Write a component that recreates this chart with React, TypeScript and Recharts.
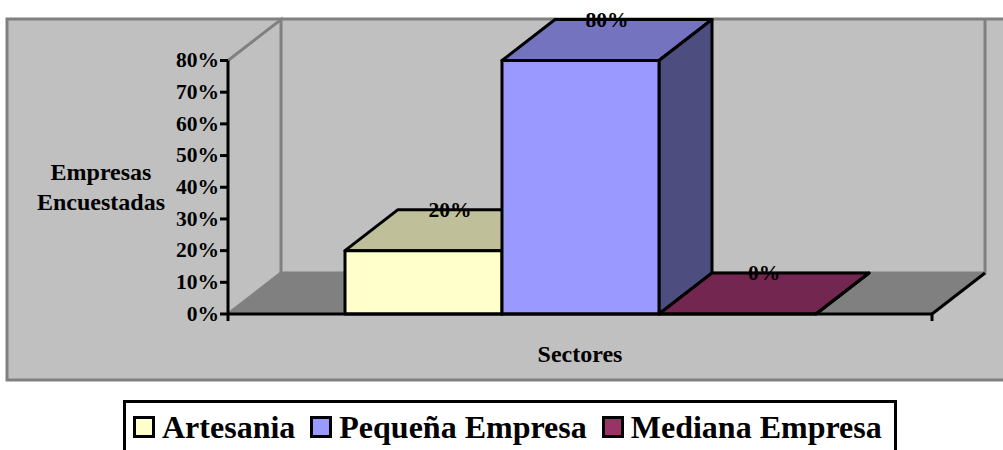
import React from 'react';
import { Bar, ComposedChart, Label, LabelList, Legend, XAxis, YAxis, usePlotArea } from 'recharts';

const categories = ['Sectores'];
const seriesNames = ['Artesania', 'Pequeña Empresa', 'Mediana Empresa'];
const seriesValues = [20, 80, 0];
const yTicks = [0, 10, 20, 30, 40, 50, 60, 70, 80];
const frontColors = ['#FFFFCC', '#9999FF', '#993366'];
const topColors = ['#BFBF99', '#7373BF', '#732650'];
const sideColors = ['#808066', '#4D4D80', '#4D1A33'];

const data = categories.map((name) => {
  const row: Record<string, string | number> = { name };
  seriesNames.forEach((s, i) => {
    row[s] = seriesValues[i];
  });
  return row;
});

const FONT = '"Liberation Serif", "Times New Roman", serif';
const DEPTH_X = 53;
const DEPTH_Y = 41;
const GRAY = '#808080';

function Backdrop() {
  const plot = usePlotArea();
  if (!plot) return null;
  const left = plot.x;
  const right = plot.x + plot.width;
  const top = plot.y;
  const bottom = plot.y + plot.height;
  const backX = left + DEPTH_X;
  const backRight = right + DEPTH_X;
  const backTop = top - DEPTH_Y;
  const backBottom = bottom - DEPTH_Y;
  return (
    <g>
      <rect x={7} y={19} width={1010} height={361} fill="#C0C0C0" stroke={GRAY} strokeWidth={3} />
      <polygon
        points={`${left},${bottom} ${right},${bottom} ${backRight},${backBottom} ${backX},${backBottom}`}
        fill={GRAY}
      />
      <polyline
        points={`${left},${top} ${backX},${backTop} ${backX},${backBottom} ${backRight},${backBottom} ${backRight},${backTop}`}
        fill="none"
        stroke={GRAY}
        strokeWidth={3}
      />
      <line x1={left} y1={bottom} x2={backX} y2={backBottom} stroke={GRAY} strokeWidth={3} />
      <line x1={right} y1={bottom} x2={backRight} y2={backBottom} stroke="#000" strokeWidth={3} />
      <line x1={right} y1={bottom} x2={right} y2={bottom + 7} stroke="#000" strokeWidth={3} />
      <line x1={left} y1={bottom} x2={left} y2={bottom + 7} stroke="#000" strokeWidth={3} />
    </g>
  );
}

function Box3D(props: any) {
  const { x, y, width, height, index } = props;
  const i = props.colorIndex ?? index ?? 0;
  const x2 = x + width;
  const y2 = y + height;
  return (
    <g stroke="#000" strokeWidth={3} strokeLinejoin="round">
      <polygon
        points={`${x},${y} ${x2},${y} ${x2 + DEPTH_X},${y - DEPTH_Y} ${x + DEPTH_X},${y - DEPTH_Y}`}
        fill={topColors[i]}
      />
      <polygon
        points={`${x2},${y} ${x2 + DEPTH_X},${y - DEPTH_Y} ${x2 + DEPTH_X},${y2 - DEPTH_Y} ${x2},${y2}`}
        fill={sideColors[i]}
      />
      <rect x={x} y={y} width={width} height={height} fill={frontColors[i]} />
    </g>
  );
}

function DepthLabel(props: any) {
  const { x, y, width, value } = props;
  return (
    <text
      x={x + width / 2 + DEPTH_X / 2}
      y={y - DEPTH_Y + 7}
      textAnchor="middle"
      fontFamily={FONT}
      fontWeight="bold"
      fontSize={21.5}
      fill="#000"
    >
      {value}%
    </text>
  );
}

function LegendBox({ payload }: any) {
  return (
    <div
      style={{
        width: 774,
        height: 60,
        boxSizing: 'border-box',
        border: '3px solid #000',
        background: '#fff',
        display: 'flex',
        alignItems: 'flex-start',
        paddingLeft: 7,
        paddingTop: 6,
        fontFamily: FONT,
        fontWeight: 'bold',
        fontSize: 32,
        lineHeight: '36px',
        color: '#000',
        whiteSpace: 'nowrap',
      }}
    >
      {(payload || []).map((entry: any) => (
        <span key={entry.value} style={{ display: 'flex', alignItems: 'center', marginRight: 15 }}>
          <span
            style={{
              width: 22,
              height: 22,
              boxSizing: 'border-box',
              border: '3px solid #000',
              background: entry.color,
              marginRight: 7,
            }}
          />
          {entry.value}
        </span>
      ))}
    </div>
  );
}

function YTitle() {
  const textProps = {
    x: 101,
    textAnchor: 'middle' as const,
    fontFamily: FONT,
    fontWeight: 'bold',
    fontSize: 24,
    fill: '#000',
  };
  return (
    <g>
      <text {...textProps} y={180}>
        Empresas
      </text>
      <text {...textProps} y={210}>
        Encuestadas
      </text>
    </g>
  );
}

function XTitle(props: any) {
  const { viewBox } = props;
  return (
    <text
      x={viewBox.x + viewBox.width / 2}
      y={viewBox.y + 48}
      textAnchor="middle"
      fontFamily={FONT}
      fontWeight="bold"
      fontSize={24}
      fill="#000"
    >
      Sectores
    </text>
  );
}

export default function App() {
  return (
    <div style={{ position: 'absolute', left: 0, top: 0, width: 1003, height: 450, overflow: 'hidden' }}>
      <ComposedChart
        width={1003}
        height={450}
        data={data}
        barSize={157}
        barGap={0}
        margin={{ top: 60.5, right: 71, bottom: 96, left: 168 }}
      >
        <Backdrop />
        <XAxis
          dataKey="name"
          height={40}
          tick={false}
          tickLine={false}
          axisLine={{ stroke: '#000', strokeWidth: 3 }}
        >
          <Label content={<XTitle />} />
        </XAxis>
        <YAxis
          width={60}
          domain={[0, 80]}
          ticks={yTicks}
          tickFormatter={(v: number) => `${v}%`}
          interval={0}
          tickSize={8}
          tickMargin={1}
          tick={{ fill: '#000', fontFamily: FONT, fontWeight: 'bold', fontSize: 21.5, dy: -1 }}
          axisLine={{ stroke: '#000', strokeWidth: 3 }}
          tickLine={{ stroke: '#000', strokeWidth: 3 }}
        >
          <Label content={<YTitle />} />
        </YAxis>
        <Legend
          layout="horizontal"
          align="center"
          verticalAlign="middle"
          itemSorter={null}
          content={<LegendBox />}
          wrapperStyle={{ position: 'absolute', left: 123, top: 400, width: 774 }}
        />
        {seriesNames.map((s, i) => (
          <Bar
            key={s}
            dataKey={s}
            fill={frontColors[i]}
            isAnimationActive={false}
            shape={<Box3D colorIndex={i} />}
          >
            <LabelList dataKey={s} content={<DepthLabel />} />
          </Bar>
        ))}
      </ComposedChart>
    </div>
  );
}
